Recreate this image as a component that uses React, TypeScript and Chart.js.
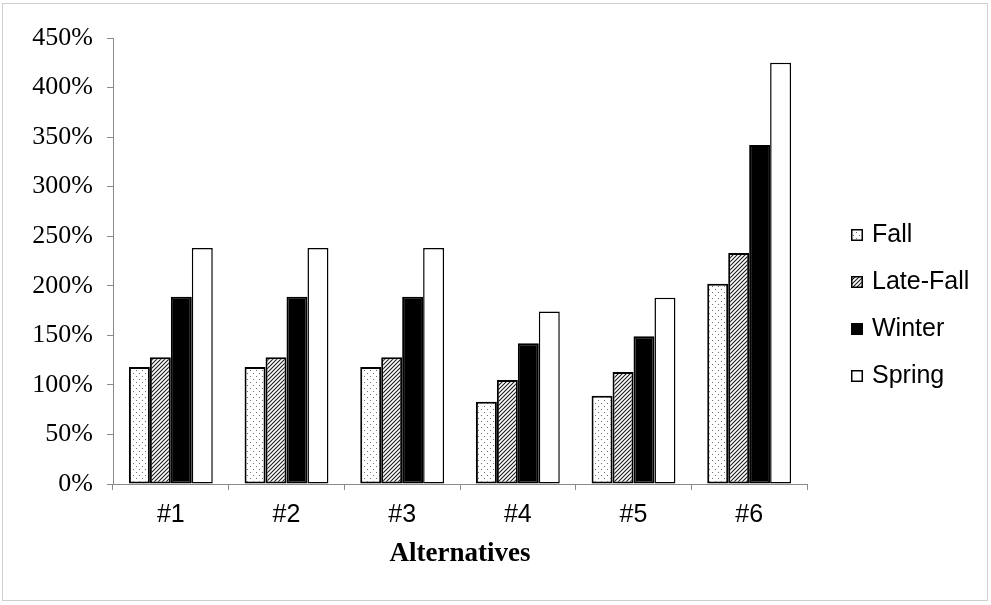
import React, { useEffect, useRef } from 'react';
import { Chart, registerables } from 'chart.js';

Chart.register(...registerables);

// ---- Data ----
const categories = ['#1', '#2', '#3', '#4', '#5', '#6'];
const fallValues = [118, 118, 118, 83, 89, 202];
const lateFallValues = [128, 128, 128, 105, 113, 233];
const winterValues = [189, 189, 189, 142, 149, 342];
const springValues = [238, 238, 238, 174, 188, 425];
const seriesNames = ['Fall', 'Late-Fall', 'Winter', 'Spring'];
const yMin = 0;
const yMax = 450;
const yStep = 50;
const xAxisTitle = 'Alternatives';

function makeDotPattern(ctx: CanvasRenderingContext2D) {
  const c = document.createElement('canvas');
  c.width = 6;
  c.height = 6;
  const g = c.getContext('2d')!;
  g.fillStyle = '#ffffff';
  g.fillRect(0, 0, 6, 6);
  g.fillStyle = '#707070';
  g.fillRect(1, 1, 1, 1);
  g.fillRect(4, 4, 1, 1);
  return ctx.createPattern(c, 'repeat')!;
}

function makeHatchPattern(ctx: CanvasRenderingContext2D) {
  const s = 4;
  const c = document.createElement('canvas');
  c.width = s;
  c.height = s;
  const g = c.getContext('2d')!;
  g.fillStyle = '#ffffff';
  g.fillRect(0, 0, s, s);
  g.strokeStyle = '#1a1a1a';
  g.lineWidth = 1.1;
  g.beginPath();
  g.moveTo(0, s);
  g.lineTo(s, 0);
  g.moveTo(-1, 1);
  g.lineTo(1, -1);
  g.moveTo(s - 1, s + 1);
  g.lineTo(s + 1, s - 1);
  g.stroke();
  return ctx.createPattern(c, 'repeat')!;
}

const framePlugin = {
  id: 'frame',
  beforeDraw(chart: any) {
    const ctx = chart.ctx as CanvasRenderingContext2D;
    ctx.save();
    ctx.fillStyle = '#ffffff';
    ctx.fillRect(0, 0, chart.width, chart.height);
    ctx.strokeStyle = '#cfcfcf';
    ctx.lineWidth = 1;
    ctx.strokeRect(2.5, 3.5, 985, 597);
    ctx.restore();
  },
};

const sideLegendPlugin = {
  id: 'sideLegend',
  afterDraw(chart: any) {
    const ctx = chart.ctx as CanvasRenderingContext2D;
    const boxX = 851;
    const textX = 872;
    const firstY = 235;
    const step = 47;
    const box = 12;
    ctx.save();
    chart.data.datasets.forEach((ds: any, i: number) => {
      const cy = firstY + i * step;
      ctx.fillStyle = ds.backgroundColor;
      ctx.fillRect(boxX, cy - box / 2, box, box);
      ctx.strokeStyle = '#000';
      ctx.lineWidth = 1.5;
      ctx.strokeRect(boxX + 0.75, cy - box / 2 + 0.75, box - 1.5, box - 1.5);
      ctx.fillStyle = '#000';
      ctx.font = '25px "Liberation Sans", Arial, sans-serif';
      ctx.textBaseline = 'middle';
      ctx.textAlign = 'left';
      ctx.fillText(ds.label, textX, cy);
    });
    ctx.restore();
  },
};

export default function App() {
  const canvasRef = useRef<HTMLCanvasElement | null>(null);

  useEffect(() => {
    const canvas = canvasRef.current;
    if (!canvas) return;
    const ctx = canvas.getContext('2d')!;
    const dots = makeDotPattern(ctx);
    const hatch = makeHatchPattern(ctx);

    const chart = new Chart(ctx, {
      type: 'bar',
      data: {
        labels: categories,
        datasets: [
          {
            label: seriesNames[0],
            data: fallValues,
            backgroundColor: dots as any,
            borderColor: '#000',
            borderWidth: 2,
            borderSkipped: false,
          },
          {
            label: seriesNames[1],
            data: lateFallValues,
            backgroundColor: hatch as any,
            borderColor: '#000',
            borderWidth: 2,
            borderSkipped: false,
          },
          {
            label: seriesNames[2],
            data: winterValues,
            backgroundColor: '#000000',
            borderColor: '#000',
            borderWidth: 2,
            borderSkipped: false,
          },
          {
            label: seriesNames[3],
            data: springValues,
            backgroundColor: '#ffffff',
            borderColor: '#000',
            borderWidth: 1.5,
            borderSkipped: false,
          },
        ],
      },
      options: {
        responsive: false,
        animation: false,
        layout: { padding: { left: 0, top: 38, right: 184, bottom: 30 } },
        datasets: { bar: { categoryPercentage: 0.725, barPercentage: 1 } },
        plugins: {
          legend: { display: false },
          tooltip: { enabled: false },
        },
        scales: {
          x: {
            grid: {
              display: true,
              drawOnChartArea: false,
              drawTicks: true,
              tickLength: 6,
              color: '#8a8a8a',
              offset: true,
            },
            border: { color: '#8a8a8a', width: 1 },
            ticks: {
              font: { family: '"Liberation Sans", Arial, sans-serif', size: 25 },
              color: '#000',
              padding: 10,
              maxRotation: 0,
            },
            title: {
              display: true,
              text: xAxisTitle,
              font: { family: '"Liberation Serif", "Times New Roman", serif', size: 27, weight: 'bold' },
              color: '#000',
              padding: { top: 0, bottom: 5 },
            },
            afterFit: (s: any) => {
              s.height = 91;
            },
          },
          y: {
            min: yMin,
            max: yMax,
            ticks: {
              stepSize: yStep,
              callback: (v: any) => v + '%',
              font: { family: '"Liberation Serif", "Times New Roman", serif', size: 26 },
              color: '#000',
              padding: 14,
            },
            grid: {
              drawOnChartArea: false,
              tickLength: 6,
              color: '#8a8a8a',
            },
            border: { color: '#8a8a8a', width: 1 },
            afterFit: (s: any) => {
              s.width = 113;
            },
          },
        },
      },
      plugins: [framePlugin, sideLegendPlugin],
    });

    return () => {
      chart.destroy();
    };
  }, []);

  return (
    <div style={{ position: 'absolute', left: 0, top: 0, width: 991, height: 605 }}>
      <canvas ref={canvasRef} width={991} height={605} style={{ display: 'block' }} />
    </div>
  );
}
